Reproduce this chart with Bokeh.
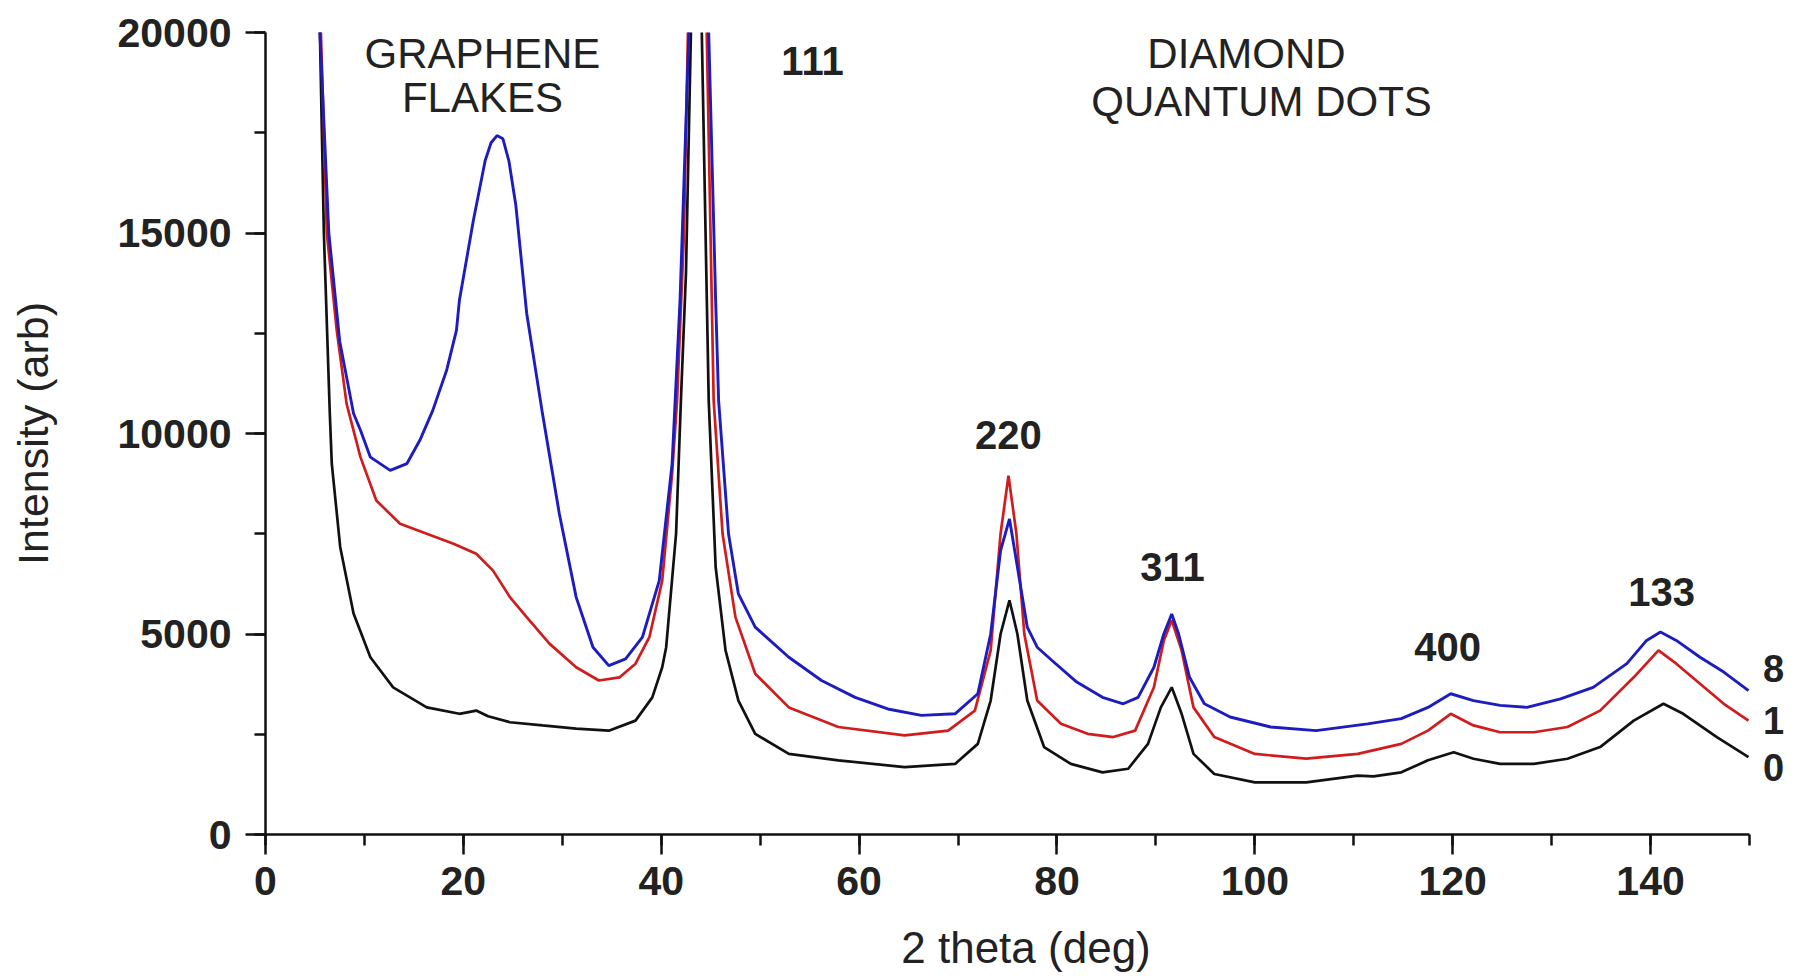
from bokeh.plotting import figure
from bokeh.models import Range1d, SingleIntervalTicker, Label
from bokeh.embed import file_html
from bokeh.resources import INLINE

# ---- data ----
x_0 = [5.0, 5.5, 5.9, 6.5, 6.7, 7.55, 8.9, 10.6, 12.9, 16.3, 19.6, 21.3, 22.5, 24.7, 28.0,
       31.4, 34.7, 37.4, 39.1, 40.1, 40.5, 41.5, 42.0, 42.5, 43.0, 43.6, 44.1, 44.8, 45.5,
       46.5, 47.8, 49.5, 52.9, 57.9, 64.6, 69.7, 72.0, 73.3, 74.3, 75.2, 76.0, 77.0, 78.7,
       81.4, 84.6, 87.2, 89.2, 90.5, 91.6, 92.6, 93.8, 95.9, 100.0, 105.2, 110.4, 112.0,
       114.8, 117.5, 120.1, 122.1, 124.8, 128.2, 131.6, 134.9, 138.3, 141.3, 143.3, 146.7, 149.9]
y_0 = [26000, 20000, 15000, 10500, 9250, 7170, 5510, 4420, 3670, 3170, 3010, 3090, 2950, 2800, 2720,
       2640, 2590, 2840, 3420, 4170, 4670, 7500, 10900, 14000, 20000, 40000, 20000, 10820, 6670,
       4590, 3340, 2510, 2010, 1850, 1680, 1760, 2260, 3340, 5000, 5840, 5000, 3340, 2180,
       1760, 1550, 1640, 2260, 3170, 3670, 3010, 2010, 1510, 1300, 1300, 1470, 1450,
       1550, 1850, 2050, 1890, 1760, 1760, 1890, 2180, 2840, 3260, 3010, 2430, 1930]

x_1 = [5.0, 5.6, 6.2, 7.2, 8.2, 9.6, 11.2, 13.6, 16.3, 19.0, 21.3, 23.0, 24.7, 26.4, 28.7,
       31.4, 33.7, 35.8, 37.4, 38.8, 40.1, 41.1, 41.6, 42.3, 42.7, 43.8, 44.6, 45.3, 46.2,
       47.5, 49.5, 52.9, 57.9, 64.6, 69.0, 71.7, 73.3, 74.3, 75.1, 75.9, 76.7, 78.0, 80.4,
       83.1, 85.7, 87.9, 89.8, 90.8, 91.6, 92.6, 93.8, 95.9, 100.0, 105.2, 110.4, 114.8,
       117.5, 119.8, 122.1, 124.8, 128.2, 131.6, 134.9, 138.3, 140.8, 142.6, 145.0, 147.4, 149.9]
y_1 = [26000, 20000, 15000, 12570, 10740, 9410, 8330, 7750, 7500, 7250, 7000, 6580, 5920, 5420, 4760,
       4170, 3840, 3920, 4260, 4920, 6330, 9000, 10820, 15000, 20000, 40000, 20000, 10820, 7500,
       5420, 4010, 3170, 2680, 2470, 2590, 3090, 4590, 7500, 8950, 7500, 5000, 3340, 2760,
       2510, 2430, 2590, 3670, 4840, 5340, 4590, 3170, 2430, 2010, 1890, 2010, 2260,
       2590, 3010, 2720, 2550, 2550, 2680, 3090, 3920, 4590, 4260, 3760, 3260, 2840]

x_8 = [5.0, 5.5, 6.4, 7.5, 8.9, 9.6, 10.6, 12.6, 14.3, 15.6, 16.9, 18.3, 19.3, 19.6, 21.0,
       22.2, 22.8, 23.4, 24.0, 24.6, 25.3, 26.4, 28.0, 29.7, 31.4, 33.1, 34.7, 36.4, 38.1, 39.8, 41.1,
       41.9, 42.8, 43.8, 44.8, 45.5, 45.8, 46.8, 47.8, 49.5, 52.9, 56.2, 59.6, 62.9, 66.3,
       69.7, 72.0, 73.3, 74.3, 75.2, 76.0, 77.0, 78.0, 79.5, 82.0, 84.6, 86.7, 88.2, 89.8,
       90.8, 91.6, 92.3, 93.4, 94.9, 97.5, 101.6, 106.2, 111.4, 114.8, 117.5, 119.8, 122.1,
       124.8, 127.5, 130.9, 134.2, 137.6, 139.6, 141.0, 142.6, 145.0, 147.4, 149.9]
y_8 = [26000, 20000, 15000, 12300, 10500, 10080, 9410, 9080, 9250, 9830, 10570, 11570, 12570, 13320, 15300,
       16800, 17250, 17430, 17350, 16800, 15700, 13000, 10490, 8000, 5920, 4670, 4210, 4380, 4920, 6330, 9250,
       13320, 20000, 40000, 20000, 13320, 10820, 7500, 6000, 5170, 4420, 3840, 3420, 3130, 2970,
       3010, 3510, 5000, 7080, 7870, 6670, 5170, 4670, 4340, 3800, 3420, 3260, 3420, 4170,
       5000, 5500, 5000, 3920, 3260, 2930, 2680, 2590, 2760, 2890, 3170, 3510, 3340,
       3220, 3170, 3380, 3670, 4260, 4840, 5050, 4840, 4420, 4050, 3590]

series_names = ["0", "1", "8"]
x_ticks_major = 20
y_ticks_major = 5000

FONT = "Liberation Sans"

p = figure(width=1795, height=978, output_backend="svg", toolbar_location=None,
           x_range=Range1d(0, 153.74), y_range=Range1d(0, 20000),
           min_border_left=265, min_border_right=9, min_border_top=32, min_border_bottom=144)
p.outline_line_color = None
p.xgrid.visible = False
p.ygrid.visible = False
p.background_fill_color = "white"
p.border_fill_color = "white"

p.line(x_0, y_0, line_color="#111111", line_width=2.7)
p.line(x_1, y_1, line_color="#d01c1c", line_width=2.7)
p.line(x_8, y_8, line_color="#1c1cc0", line_width=2.9)

for ax in (p.xaxis[0], p.yaxis[0]):
    ax.axis_line_width = 2.5
    ax.axis_line_color = "#111111"
    ax.major_tick_line_width = 2.5
    ax.minor_tick_line_width = 2.5
    ax.major_tick_line_color = "#111111"
    ax.minor_tick_line_color = "#111111"
    ax.major_tick_in = 0
    ax.major_tick_out = 20
    ax.minor_tick_in = 0
    ax.minor_tick_out = 11
    ax.major_label_text_font = FONT
    ax.major_label_text_font_style = "bold"
    ax.major_label_text_font_size = "41px"
    ax.major_label_text_color = "#222222"
    ax.axis_label_text_font = FONT
    ax.axis_label_text_font_style = "normal"
    ax.axis_label_text_color = "#222222"

p.xaxis[0].bounds = (0, 150)
p.xaxis[0].ticker = SingleIntervalTicker(interval=x_ticks_major, num_minor_ticks=2)
p.yaxis[0].ticker = SingleIntervalTicker(interval=y_ticks_major, num_minor_ticks=2)
p.xaxis[0].axis_label = "2 theta (deg)"
p.yaxis[0].axis_label = "Intensity (arb)"
p.xaxis[0].axis_label_text_font_size = "44px"
p.yaxis[0].axis_label_text_font_size = "43px"
p.xaxis[0].major_label_standoff = 12
p.yaxis[0].major_label_standoff = 14
p.xaxis[0].axis_label_standoff = 25
p.yaxis[0].axis_label_standoff = 57

def add_label(x, y, text, size, bold):
    p.add_layout(Label(x=x, y=y, text=text, text_font=FONT, text_font_size=size,
                       text_font_style="bold" if bold else "normal",
                       text_align="center", text_baseline="middle", text_color="#222222"))

add_label(21.93, 19478, "GRAPHENE", "42px", False)
add_label(21.93, 18368, "FLAKES", "42px", False)
add_label(99.16, 19478, "DIAMOND", "42px", False)
add_label(100.68, 18281, "QUANTUM DOTS", "42px", False)
add_label(55.29, 19279, "111", "40px", True)
add_label(75.10, 9951, "220", "40px", True)
add_label(91.68, 6659, "311", "40px", True)
add_label(119.48, 4664, "400", "40px", True)
add_label(141.11, 6035, "133", "40px", True)
add_label(152.43, 4140, series_names[2], "38px", True)
add_label(152.43, 2843, series_names[1], "38px", True)
add_label(152.43, 1671, series_names[0], "38px", True)

open("out.html", "w").write(file_html(p, INLINE))
